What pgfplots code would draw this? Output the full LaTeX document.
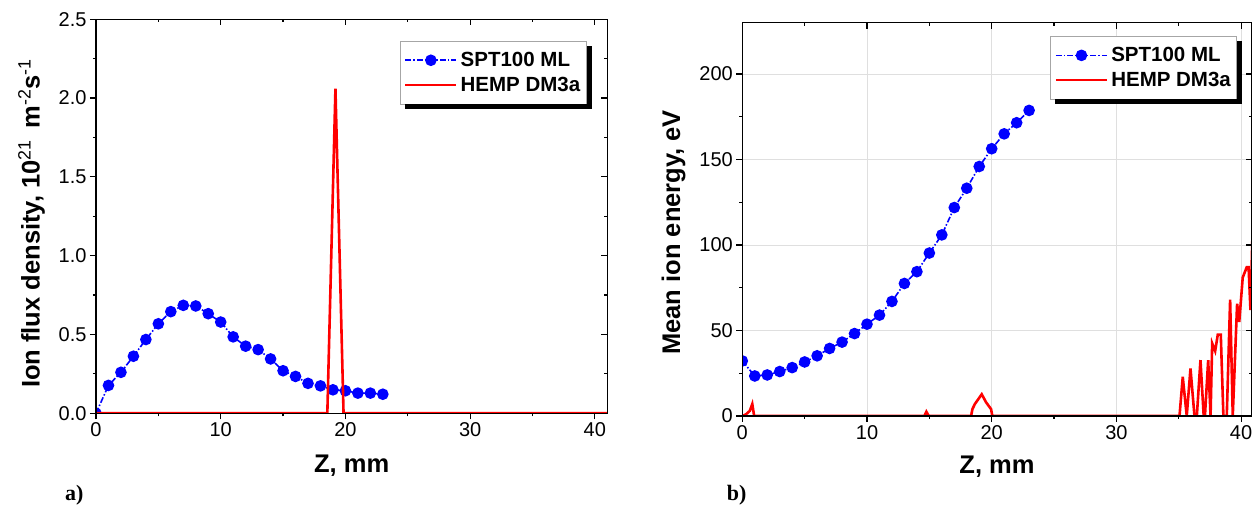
\documentclass[border=0pt]{standalone}
\usepackage{pgfplots}
\usepackage{pgfplotstable}
\pgfplotsset{compat=1.18}
\usepackage{fontspec}
\setmainfont{Liberation Sans}
\newfontfamily\timesfont{Liberation Serif}

\pgfplotstableread{
x y
0 0.0
1 0.177
2 0.26
3 0.362
4 0.468
5 0.568
6 0.645
7 0.685
8 0.681
9 0.632
10 0.579
11 0.485
12 0.426
13 0.404
14 0.345
15 0.27
16 0.234
17 0.19
18 0.174
19 0.149
20 0.143
21 0.128
22 0.128
23 0.121
}\fluxspt

\pgfplotstableread{
x y
0 0
18.55 0
19.2 2.06
19.85 0
41 0
}\fluxhemp

\pgfplotstableread{
x y
0 32.2
1 23.4
2 24.0
3 26.0
4 28.3
5 31.6
6 35.2
7 39.5
8 43.2
9 48.2
10 53.7
11 59.0
12 67.0
13 77.5
14 84.4
15 95.3
16 105.9
17 121.9
18 133.2
19 145.9
20 156.3
21 165.0
22 171.5
23 178.7
}\enspt

\pgfplotstableread{
x y
0 0
0.3 1
0.6 3
0.8 7
0.95 0
14.6 0
14.76 2.5
14.95 0
18.35 0
18.45 4
18.65 7
19.2 12.7
19.55 8
19.75 6
19.95 4
20.05 0
35.06 0
35.32 22.9
35.64 0
35.94 27.8
36.26 0
36.45 0
36.74 32.7
37.0 0
37.1 0
37.36 32.7
37.55 0
37.68 42.5
37.92 38
38.13 47.6
38.37 47.6
38.58 0
38.85 0
39.12 68
39.33 0
39.68 65.7
39.85 55
40.13 81
40.45 87
40.6 87
40.75 62
40.9 103
}\enhemp

\tikzset{labfont/.style={font=\fontsize{25.5}{30}\selectfont\bfseries}}

\pgfplotsset{
  common/.style={
    scale only axis,
    axis line style={line width=1.5pt},
    tick style={line width=1.2pt, black},
    major tick length=6pt, minor tick length=3pt,
    minor x tick num=1, minor y tick num=1,
    xtick={0,10,20,30,40},
    ticklabel style={font=\fontsize{20}{24}\selectfont},
    /pgf/number format/assume math mode=true,
    clip marker paths=true,
    legend cell align=left,
    legend image code/.code={\draw[mark repeat=2,mark phase=2,##1] plot coordinates {(0pt,0pt) (25.5pt,0pt) (51pt,0pt)};},
    legend style={font=\fontsize{20.5}{24}\selectfont\bfseries, draw=gray!70, line width=0.8pt, fill=white,
      inner xsep=4pt, inner ysep=9pt, row sep=5pt,
      /tikz/every odd column/.append style={column sep=1pt}},
  },
  outer/.style={tick align=outside, xtick pos=left, ytick pos=left},
  inner/.style={tick align=inside, xtick pos=right, ytick pos=right, xticklabels={}, yticklabels={}},
  leftgeom/.style={at={(96pt,94.7pt)}, anchor=south west, width=511.3pt, height=394pt,
    xmin=0, xmax=41, ymin=0, ymax=2.5, ytick={0,0.5,1,1.5,2,2.5}},
  rightgeom/.style={at={(742.3pt,92pt)}, anchor=south west, width=509.4pt, height=393.3pt,
    xmin=0, xmax=40.85, ymin=0, ymax=230, ytick={0,50,100,150,200}},
  sptstyle/.style={color=blue, line width=1.6pt, dash pattern=on 6pt off 2pt on 1.5pt off 2pt,
    mark=*, mark size=5pt, mark options={solid, fill=blue, draw=blue}},
  hempstyle/.style={color=red, line width=2.6pt, mark=none},
}

\begin{document}
\begin{tikzpicture}
\useasboundingbox (0pt,0pt) rectangle (1260pt,508pt);

% ---- panel a ----
\begin{axis}[common, outer, leftgeom,
  yticklabel style={/pgf/number format/.cd, fixed, fixed zerofill, precision=1},
  xlabel={Z, mm},
  ylabel={Ion flux density, 10\textsuperscript{\mdseries 21}\hspace{0.45em}m\textsuperscript{\mdseries -2}s\textsuperscript{\mdseries -1}},
  every axis x label/.style={at={(axis description cs:0.5,-0.1515)}, anchor=base, labfont},
  every axis y label/.style={at={(axis description cs:-0.126,0.482)}, rotate=90, anchor=center, labfont},
  legend style={at={(0.9597,0.945)}, anchor=north east, name=legA},
]
\addplot[sptstyle] table[x=x,y=y] {\fluxspt};
\addlegendentry{SPT100 ML}
\addplot[hempstyle] table[x=x,y=y] {\fluxhemp};
\addlegendentry{HEMP DM3a}
\end{axis}
\begin{axis}[common, inner, leftgeom]
\end{axis}
\fill[black] ([yshift=-5pt]legA.north east) rectangle ([xshift=5pt,yshift=-5pt]legA.south east);
\fill[black] ([xshift=5pt]legA.south west) rectangle ([xshift=5pt,yshift=-5pt]legA.south east);

% ---- panel b ----
\begin{axis}[common, outer, rightgeom,
  grid=major, major grid style={gray!25, line width=0.9pt},
  xlabel={Z, mm},
  ylabel={Mean ion energy, eV},
  every axis x label/.style={at={(axis description cs:0.5,-0.145)}, anchor=base, labfont},
  every axis y label/.style={at={(axis description cs:-0.135,0.467)}, rotate=90, anchor=center, labfont},
  legend style={at={(0.9717,0.966)}, anchor=north east, name=legB},
]
\addplot[sptstyle] table[x=x,y=y] {\enspt};
\addlegendentry{SPT100 ML}
\addplot[hempstyle] table[x=x,y=y] {\enhemp};
\addlegendentry{HEMP DM3a}
\end{axis}
\begin{axis}[common, inner, rightgeom]
\end{axis}
\fill[black] ([yshift=-5pt]legB.north east) rectangle ([xshift=5pt,yshift=-5pt]legB.south east);
\fill[black] ([xshift=5pt]legB.south west) rectangle ([xshift=5pt,yshift=-5pt]legB.south east);

\node[anchor=base west, inner sep=0pt, font=\fontsize{22}{24}\selectfont\timesfont\bfseries] at (65pt,7.5pt) {a)};
\node[anchor=base west, inner sep=0pt, font=\fontsize{22}{24}\selectfont\timesfont\bfseries] at (726.6pt,7.5pt) {b)};
\end{tikzpicture}
\end{document}
